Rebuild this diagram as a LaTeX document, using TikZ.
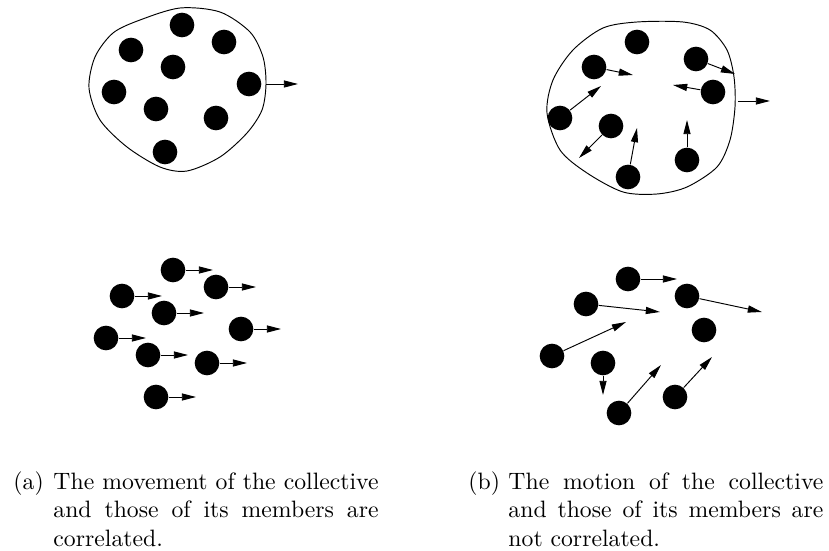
\documentclass[tikz,border=0pt]{standalone}
\usetikzlibrary{arrows.meta}

\begin{document}
\begin{tikzpicture}[x=0.422pt,y=-0.422pt,
  ball/.style={circle, fill=black, inner sep=0pt, minimum size=10.4pt},
  mv/.style={-{Triangle[length=6pt,width=3pt]}, thin},
  caption/.style={anchor=north west, inner sep=0pt, align=justify}]
\useasboundingbox (0,0) rectangle (829,551);

% (a) top: the collective
\draw[thin] plot[smooth cycle] coordinates {(89,88) (95,57) (113,33) (140,20) (180,8) (220,12) (250,32) (263,57) (266,84) (262,110) (247,133) (220,157) (187,171) (160,167) (127,147) (100,120)};
\node[ball] (a1) at (182,25) {};
\node[ball] (a2) at (224,42) {};
\node[ball] (a3) at (131,50) {};
\node[ball] (a4) at (173,67) {};
\node[ball] (a5) at (249,84) {};
\node[ball] (a6) at (114,92) {};
\node[ball] (a7) at (156,109) {};
\node[ball] (a8) at (216,118) {};
\node[ball] (a9) at (165,152) {};
\coordinate (edgeA) at (266,84);
\coordinate (moveA) at (298,84);
\draw[mv] (edgeA) -- (moveA);

% (b) top: the collective
\draw[thin] plot[smooth cycle] coordinates {(547,113) (553,80) (573,50) (603,28) (637,22) (683,22) (710,30) (727,50) (734,77) (735,107) (730,140) (717,167) (687,187) (657,194) (623,192) (587,173) (560,150)};
\node[ball] (b1) at (637,42) {};
\node[ball] (b2) at (594,67) {};
\node[ball] (b3) at (696,59) {};
\node[ball] (b4) at (713,92) {};
\node[ball] (b5) at (560,118) {};
\node[ball] (b6) at (611,126) {};
\node[ball] (b7) at (687,160) {};
\node[ball] (b8) at (628,177) {};
\coordinate (b2e) at (633,75);
\coordinate (b3e) at (735,74);
\coordinate (b4e) at (673,85);
\coordinate (b5e) at (601,86);
\coordinate (b6e) at (579,158);
\coordinate (b7e) at (687,120);
\coordinate (b8e) at (637,128);
\draw[mv] (b2) -- (b2e);
\draw[mv] (b3) -- (b3e);
\draw[mv] (b4) -- (b4e);
\draw[mv] (b5) -- (b5e);
\draw[mv] (b6) -- (b6e);
\draw[mv] (b7) -- (b7e);
\draw[mv] (b8) -- (b8e);
\coordinate (edgeB) at (738,101);
\coordinate (moveB) at (770,101);
\draw[mv] (edgeB) -- (moveB);

% (a) bottom: the members
\node[ball] (p1) at (173,270) {};
\node[ball] (p2) at (216,287) {};
\node[ball] (p3) at (122,296) {};
\node[ball] (p4) at (164,313) {};
\node[ball] (p5) at (241,329) {};
\node[ball] (p6) at (106,338) {};
\node[ball] (p7) at (148,355) {};
\node[ball] (p8) at (207,363) {};
\node[ball] (p9) at (156,397) {};
\coordinate (p1e) at (213,270);
\coordinate (p2e) at (256,287);
\coordinate (p3e) at (162,296);
\coordinate (p4e) at (204,313);
\coordinate (p5e) at (281,329);
\coordinate (p6e) at (146,338);
\coordinate (p7e) at (188,355);
\coordinate (p8e) at (247,363);
\coordinate (p9e) at (196,397);
\draw[mv] (p1) -- (p1e);
\draw[mv] (p2) -- (p2e);
\draw[mv] (p3) -- (p3e);
\draw[mv] (p4) -- (p4e);
\draw[mv] (p5) -- (p5e);
\draw[mv] (p6) -- (p6e);
\draw[mv] (p7) -- (p7e);
\draw[mv] (p8) -- (p8e);
\draw[mv] (p9) -- (p9e);

% (b) bottom: the members
\node[ball] (q1) at (628,279) {};
\node[ball] (q2) at (586,304) {};
\node[ball] (q3) at (687,296) {};
\node[ball] (q4) at (704,330) {};
\node[ball] (q5) at (552,356) {};
\node[ball] (q6) at (603,363) {};
\node[ball] (q7) at (675,397) {};
\node[ball] (q8) at (619,413) {};
\coordinate (q1e) at (677,279);
\coordinate (q2e) at (660,312);
\coordinate (q3e) at (762,312);
\coordinate (q5e) at (626,322);
\coordinate (q6e) at (603,395);
\coordinate (q7e) at (712,357);
\coordinate (q8e) at (661,365);
\draw[mv] (q1) -- (q1e);
\draw[mv] (q2) -- (q2e);
\draw[mv] (q3) -- (q3e);
\draw[mv] (q5) -- (q5e);
\draw[mv] (q6) -- (q6e);
\draw[mv] (q7) -- (q7e);
\draw[mv] (q8) -- (q8e);

% captions
\node[caption] (labA) at (13,469) {\strut(a)};
\node[caption, text width=137.2pt] (capA) at (53,469) {\strut The movement of the collective and those of its members are correlated.};
\node[caption] (labB) at (468,469) {\strut(b)};
\node[caption, text width=132.9pt] (capB) at (508,469) {\strut The motion of the collective and those of its members are not correlated.};
\end{tikzpicture}
\end{document}
